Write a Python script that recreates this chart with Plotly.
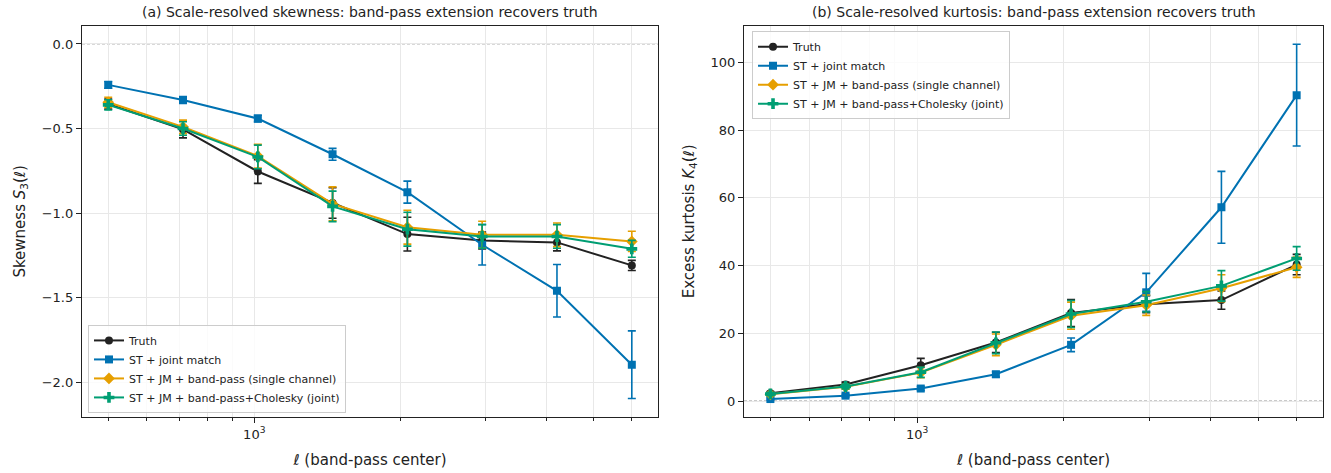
import plotly.graph_objects as go

# band-pass centres
ell = [500, 713, 1017, 1450, 2068, 2949, 4206, 6000]

# (a) skewness
s3_truth = [-0.355, -0.505, -0.754, -0.94, -1.124, -1.162, -1.173, -1.309]
s3_truth_err = [0.03, 0.05, 0.07, 0.09, 0.10, 0.05, 0.05, 0.03]
s3_st = [-0.242, -0.331, -0.441, -0.652, -0.876, -1.187, -1.459, -1.896]
s3_st_err = [0.02, 0.02, 0.02, 0.035, 0.065, 0.12, 0.155, 0.2]
s3_bp = [-0.345, -0.49, -0.663, -0.945, -1.083, -1.128, -1.128, -1.167]
s3_bp_err = [0.03, 0.04, 0.07, 0.10, 0.10, 0.08, 0.07, 0.06]
s3_chol = [-0.36, -0.50, -0.668, -0.96, -1.095, -1.138, -1.138, -1.211]
s3_chol_err = [0.03, 0.04, 0.07, 0.09, 0.10, 0.07, 0.07, 0.05]

# (b) excess kurtosis
k4_truth = [2.3, 4.9, 10.6, 17.3, 26.0, 28.6, 29.8, 40.3]
k4_truth_err = [0.5, 0.7, 2.0, 3.0, 4.0, 2.5, 2.7, 3.0]
k4_st = [0.6, 1.6, 3.7, 7.9, 16.6, 32.1, 57.2, 90.3]
k4_st_err = [0.3, 0.4, 0.6, 0.8, 2.0, 5.6, 10.6, 15.0]
k4_bp = [2.0, 4.2, 8.4, 16.6, 25.2, 28.3, 33.3, 39.5]
k4_bp_err = [0.5, 0.7, 1.5, 3.2, 4.0, 3.0, 4.0, 3.0]
k4_chol = [2.1, 4.3, 8.5, 17.2, 25.7, 29.3, 34.0, 42.1]
k4_chol_err = [0.5, 0.7, 1.5, 3.2, 4.0, 3.0, 4.5, 3.5]

names = ["Truth", "ST + joint match", "ST + JM + band-pass (single channel)",
         "ST + JM + band-pass+Cholesky (joint)"]
colors = ["#222222", "#0072B2", "#E69F00", "#009E73"]
symbols = ["circle", "square", "diamond", "cross"]
msizes = [8, 8, 9, 9]

minor_vals = [500, 600, 700, 800, 900, 2000, 3000, 4000, 5000, 6000]
FONT = "DejaVu Sans"
GRID = "#e8e8e8"

fig = go.Figure()

panels = [
    ("x", "y", "legend", [s3_truth, s3_st, s3_bp, s3_chol],
     [s3_truth_err, s3_st_err, s3_bp_err, s3_chol_err]),
    ("x2", "y2", "legend2", [k4_truth, k4_st, k4_bp, k4_chol],
     [k4_truth_err, k4_st_err, k4_bp_err, k4_chol_err]),
]
for xa, ya, leg, ys, errs in panels:
    for i in range(4):
        fig.add_trace(go.Scatter(
            x=ell, y=ys[i], name=names[i], mode="lines+markers",
            xaxis=xa, yaxis=ya, legend=leg,
            line=dict(color=colors[i], width=2),
            marker=dict(symbol=symbols[i], size=msizes[i], color=colors[i]),
            error_y=dict(type="data", array=errs[i], visible=True,
                         color=colors[i], thickness=1.6, width=4),
        ))

xaxis_common = dict(
    type="log", range=[2.6449, 3.8322],
    tickmode="array", tickvals=[1000], ticktext=["10<sup>3</sup>"],
    ticks="outside", ticklen=5, tickwidth=1, tickcolor="#222",
    showgrid=True, gridcolor=GRID, gridwidth=1,
    minor=dict(tickmode="array", tickvals=minor_vals, ticks="outside",
               ticklen=3, tickwidth=0.8, tickcolor="#222",
               showgrid=True, gridcolor=GRID, gridwidth=1),
    showline=True, linecolor="#222", linewidth=1.2, mirror=True,
    zeroline=False,
    tickfont=dict(family=FONT, size=13, color="#222"),
    title=dict(text="ℓ (band-pass center)", standoff=13,
               font=dict(family=FONT, size=15, color="#222")),
)
yaxis_common = dict(
    ticks="outside", ticklen=5, tickwidth=1, tickcolor="#222",
    showgrid=True, gridcolor=GRID, gridwidth=1,
    showline=True, linecolor="#222", linewidth=1.2, mirror=True,
    zeroline=False,
    tickfont=dict(family=FONT, size=13, color="#222"),
)

ydom = [0.1184, 0.9457]
fig.update_layout(
    width=1331, height=473,
    margin=dict(l=0, r=0, t=0, b=0),
    paper_bgcolor="white", plot_bgcolor="white",
    font=dict(family=FONT, color="#222"),
    xaxis=dict(domain=[0.0616, 0.4944], anchor="y", **xaxis_common),
    xaxis2=dict(domain=[0.559, 0.994], anchor="y2", **xaxis_common),
    yaxis=dict(domain=ydom, anchor="x", range=[-2.205, 0.108],
               tickvals=[-2.0, -1.5, -1.0, -0.5, 0.0], tickformat=".1f",
               title=dict(text="Skewness <i>S</i><sub>3</sub>(ℓ)", standoff=12,
                          font=dict(family=FONT, size=15, color="#222")),
               **yaxis_common),
    yaxis2=dict(domain=ydom, anchor="x2", range=[-4.7, 110.8],
                tickvals=[0, 20, 40, 60, 80, 100],
                title=dict(text="Excess kurtosis <i>K</i><sub>4</sub>(ℓ)", standoff=12,
                           font=dict(family=FONT, size=15, color="#222")),
                **yaxis_common),
    legend=dict(x=0.0661, y=0.127, xanchor="left", yanchor="bottom",
                xref="paper", yref="paper",
                bgcolor="rgba(255,255,255,0.8)", bordercolor="#cccccc", borderwidth=1,
                font=dict(family=FONT, size=11, color="#222"),
                tracegroupgap=0, itemwidth=30),
    legend2=dict(x=0.565, y=0.934, xanchor="left", yanchor="top",
                 xref="paper", yref="paper",
                 bgcolor="rgba(255,255,255,0.8)", bordercolor="#cccccc", borderwidth=1,
                 font=dict(family=FONT, size=11, color="#222"),
                 tracegroupgap=0, itemwidth=30),
    shapes=[
        dict(type="line", xref="x domain", yref="y", x0=0, x1=1, y0=0, y1=0,
             line=dict(color="#aaaaaa", width=1, dash="3px,2px"), layer="below"),
        dict(type="line", xref="x2 domain", yref="y2", x0=0, x1=1, y0=0, y1=0,
             line=dict(color="#666666", width=0.8, dash="3px,2px"), layer="below"),
    ],
    annotations=[
        dict(text="(a) Scale-resolved skewness: band-pass extension recovers truth",
             xref="paper", yref="paper", x=0.278, y=0.9746, showarrow=False,
             xanchor="center", yanchor="middle",
             font=dict(family=FONT, size=14, color="#222")),
        dict(text="(b) Scale-resolved kurtosis: band-pass extension recovers truth",
             xref="paper", yref="paper", x=0.7765, y=0.9746, showarrow=False,
             xanchor="center", yanchor="middle",
             font=dict(family=FONT, size=14, color="#222")),
    ],
)

fig.write_html("out.html")
